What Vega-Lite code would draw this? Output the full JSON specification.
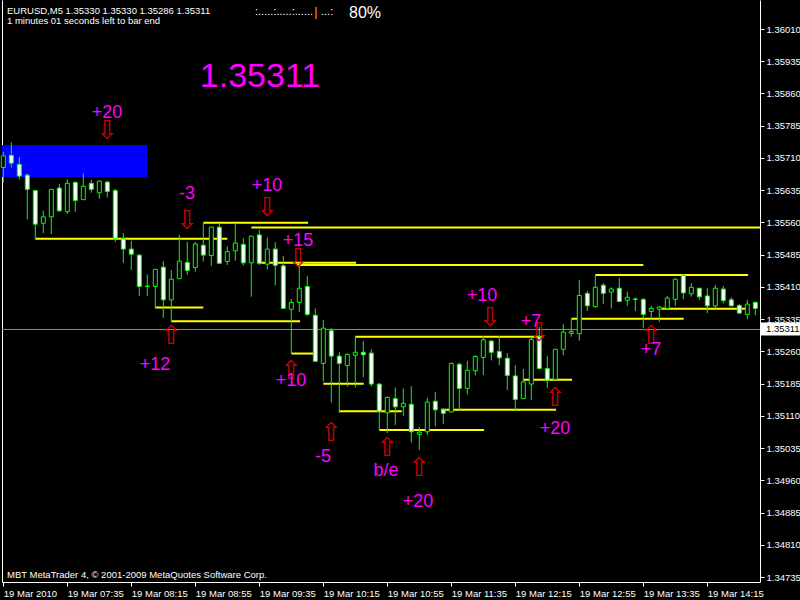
{
  "$schema": "https://vega.github.io/schema/vega-lite/v6.json",
  "width": 758,
  "height": 582,
  "autosize": {"type": "none"},
  "padding": {"left": 2, "top": 0, "right": 40, "bottom": 18},
  "background": "#000000",
  "config": {
    "view": {"stroke": null},
    "scale": {"continuousPadding": 0},
    "axis": {"grid": false, "labelColor": "#FFFFFF", "tickColor": "#FFFFFF", "domainColor": "#FFFFFF", "labelFont": "Liberation Sans", "labelFontSize": 9.5}
  },
  "resolve": {"axis": {"x": "independent", "y": "independent"}},
  "layer": [
    {
      "data": {"values": [{"t1": "2010-03-19T06:40", "t2": "2010-03-19T08:25", "p1": 1.35740, "p2": 1.35666}]},
      "mark": {"type": "rect", "fill": "#0000FF", "clip": true},
      "encoding": {
        "x": {"field": "t1", "type": "temporal",
          "scale": {"padding": 0, "domain": [{"year": 2010, "month": 3, "date": 19, "hours": 6, "minutes": 54, "seconds": 11}, {"year": 2010, "month": 3, "date": 19, "hours": 14, "minutes": 47, "seconds": 56}]},
          "axis": {"orient": "bottom", "title": null,
            "values": [
              {"year": 2010, "month": 3, "date": 19, "hours": 6, "minutes": 55},
              {"year": 2010, "month": 3, "date": 19, "hours": 7, "minutes": 35},
              {"year": 2010, "month": 3, "date": 19, "hours": 8, "minutes": 15},
              {"year": 2010, "month": 3, "date": 19, "hours": 8, "minutes": 55},
              {"year": 2010, "month": 3, "date": 19, "hours": 9, "minutes": 35},
              {"year": 2010, "month": 3, "date": 19, "hours": 10, "minutes": 15},
              {"year": 2010, "month": 3, "date": 19, "hours": 10, "minutes": 55},
              {"year": 2010, "month": 3, "date": 19, "hours": 11, "minutes": 35},
              {"year": 2010, "month": 3, "date": 19, "hours": 12, "minutes": 15},
              {"year": 2010, "month": 3, "date": 19, "hours": 12, "minutes": 55},
              {"year": 2010, "month": 3, "date": 19, "hours": 13, "minutes": 35},
              {"year": 2010, "month": 3, "date": 19, "hours": 14, "minutes": 15}
            ],
            "labelExpr": "hours(datum.value) == 6 ? '19 Mar 2010' : timeFormat(datum.value, '%d %b %H:%M')",
            "labelAlign": "left", "labelDx": 1, "labelBaseline": "top", "labelPadding": 2, "tickSize": 4, "labelOverlap": false, "labelFlush": false}},
        "x2": {"field": "t2"},
        "y": {"field": "p1", "type": "quantitative", "scale": {"domain": [1.347235, 1.360775], "zero": false, "nice": false},
          "axis": {"orient": "left", "labels": false, "ticks": false, "domain": true, "title": null}},
        "y2": {"field": "p2"}
      }
    },
    {
      "data": {"values": [
        {"t1": "2010-03-19T07:15", "t2": "2010-03-19T09:15", "p": 1.35522},
        {"t1": "2010-03-19T09:00", "t2": "2010-03-19T10:05:30", "p": 1.35559},
        {"t1": "2010-03-19T09:30", "t2": "2010-03-19T14:55", "p": 1.35548},
        {"t1": "2010-03-19T09:35", "t2": "2010-03-19T10:35:30", "p": 1.35466},
        {"t1": "2010-03-19T09:58:30", "t2": "2010-03-19T13:35", "p": 1.35461},
        {"t1": "2010-03-19T08:30", "t2": "2010-03-19T09:00", "p": 1.35362},
        {"t1": "2010-03-19T08:40", "t2": "2010-03-19T10:00:30", "p": 1.35330},
        {"t1": "2010-03-19T09:55", "t2": "2010-03-19T10:08:45", "p": 1.35255},
        {"t1": "2010-03-19T10:35", "t2": "2010-03-19T12:32:30", "p": 1.35294},
        {"t1": "2010-03-19T10:15", "t2": "2010-03-19T10:40:15", "p": 1.35185},
        {"t1": "2010-03-19T10:25", "t2": "2010-03-19T11:04", "p": 1.35121},
        {"t1": "2010-03-19T11:28:30", "t2": "2010-03-19T12:40:30", "p": 1.35124},
        {"t1": "2010-03-19T10:50", "t2": "2010-03-19T11:55:30", "p": 1.35077},
        {"t1": "2010-03-19T12:20", "t2": "2010-03-19T12:50:30", "p": 1.35194},
        {"t1": "2010-03-19T13:05", "t2": "2010-03-19T14:40:30", "p": 1.35438},
        {"t1": "2010-03-19T12:50", "t2": "2010-03-19T14:00:15", "p": 1.35336},
        {"t1": "2010-03-19T13:46:30", "t2": "2010-03-19T14:40", "p": 1.35359}
      ]},
      "mark": {"type": "rule", "color": "#FFFF00", "strokeWidth": 2, "clip": true},
      "encoding": {
        "x": {"field": "t1", "type": "temporal", "axis": null},
        "x2": {"field": "t2"},
        "y": {"field": "p", "type": "quantitative", "axis": null}
      }
    },
    {
      "data": {"values": [{"p": 1.35311}]},
      "mark": {"type": "rule", "color": "#8C8C8C", "strokeWidth": 1},
      "encoding": {
        "y": {"field": "p", "type": "quantitative", "axis": null}
      }
    },
    {
      "data": {"name": "candles", "values": [
        {"t": "2010-03-19T06:55", "o": 1.35688, "h": 1.35724, "l": 1.35653, "c": 1.35715},
        {"t": "2010-03-19T07:00", "o": 1.35716, "h": 1.35746, "l": 1.35688, "c": 1.35698},
        {"t": "2010-03-19T07:05", "o": 1.35695, "h": 1.35712, "l": 1.35660, "c": 1.35668},
        {"t": "2010-03-19T07:10", "o": 1.35670, "h": 1.35674, "l": 1.35567, "c": 1.35637},
        {"t": "2010-03-19T07:15", "o": 1.35634, "h": 1.35636, "l": 1.35521, "c": 1.35556},
        {"t": "2010-03-19T07:20", "o": 1.35558, "h": 1.35587, "l": 1.35535, "c": 1.35573},
        {"t": "2010-03-19T07:25", "o": 1.35573, "h": 1.35638, "l": 1.35533, "c": 1.35637},
        {"t": "2010-03-19T07:30", "o": 1.35640, "h": 1.35650, "l": 1.35584, "c": 1.35587},
        {"t": "2010-03-19T07:35", "o": 1.35585, "h": 1.35660, "l": 1.35580, "c": 1.35651},
        {"t": "2010-03-19T07:40", "o": 1.35653, "h": 1.35656, "l": 1.35585, "c": 1.35611},
        {"t": "2010-03-19T07:45", "o": 1.35613, "h": 1.35674, "l": 1.35612, "c": 1.35644},
        {"t": "2010-03-19T07:50", "o": 1.35651, "h": 1.35659, "l": 1.35629, "c": 1.35637},
        {"t": "2010-03-19T07:55", "o": 1.35629, "h": 1.35657, "l": 1.35615, "c": 1.35656},
        {"t": "2010-03-19T08:00", "o": 1.35654, "h": 1.35657, "l": 1.35618, "c": 1.35632},
        {"t": "2010-03-19T08:05", "o": 1.35634, "h": 1.35638, "l": 1.35515, "c": 1.35522},
        {"t": "2010-03-19T08:10", "o": 1.35522, "h": 1.35535, "l": 1.35466, "c": 1.35498},
        {"t": "2010-03-19T08:15", "o": 1.35498, "h": 1.35517, "l": 1.35449, "c": 1.35486},
        {"t": "2010-03-19T08:20", "o": 1.35484, "h": 1.35486, "l": 1.35389, "c": 1.35411},
        {"t": "2010-03-19T08:25", "o": 1.35412, "h": 1.35439, "l": 1.35389, "c": 1.35411},
        {"t": "2010-03-19T08:30", "o": 1.35411, "h": 1.35452, "l": 1.35360, "c": 1.35451},
        {"t": "2010-03-19T08:35", "o": 1.35456, "h": 1.35470, "l": 1.35338, "c": 1.35380},
        {"t": "2010-03-19T08:40", "o": 1.35380, "h": 1.35449, "l": 1.35329, "c": 1.35428},
        {"t": "2010-03-19T08:45", "o": 1.35429, "h": 1.35531, "l": 1.35428, "c": 1.35470},
        {"t": "2010-03-19T08:50", "o": 1.35467, "h": 1.35515, "l": 1.35438, "c": 1.35448},
        {"t": "2010-03-19T08:55", "o": 1.35455, "h": 1.35514, "l": 1.35445, "c": 1.35510},
        {"t": "2010-03-19T09:00", "o": 1.35507, "h": 1.35559, "l": 1.35469, "c": 1.35484},
        {"t": "2010-03-19T09:05", "o": 1.35483, "h": 1.35550, "l": 1.35459, "c": 1.35549},
        {"t": "2010-03-19T09:10", "o": 1.35549, "h": 1.35558, "l": 1.35464, "c": 1.35465},
        {"t": "2010-03-19T09:15", "o": 1.35469, "h": 1.35504, "l": 1.35461, "c": 1.35492},
        {"t": "2010-03-19T09:20", "o": 1.35494, "h": 1.35558, "l": 1.35471, "c": 1.35512},
        {"t": "2010-03-19T09:25", "o": 1.35509, "h": 1.35523, "l": 1.35460, "c": 1.35466},
        {"t": "2010-03-19T09:30", "o": 1.35466, "h": 1.35529, "l": 1.35387, "c": 1.35528},
        {"t": "2010-03-19T09:35", "o": 1.35531, "h": 1.35542, "l": 1.35461, "c": 1.35465},
        {"t": "2010-03-19T09:40", "o": 1.35463, "h": 1.35525, "l": 1.35451, "c": 1.35498},
        {"t": "2010-03-19T09:45", "o": 1.35498, "h": 1.35514, "l": 1.35414, "c": 1.35460},
        {"t": "2010-03-19T09:50", "o": 1.35459, "h": 1.35482, "l": 1.35359, "c": 1.35360},
        {"t": "2010-03-19T09:55", "o": 1.35358, "h": 1.35382, "l": 1.35256, "c": 1.35374},
        {"t": "2010-03-19T10:00", "o": 1.35374, "h": 1.35461, "l": 1.35352, "c": 1.35407},
        {"t": "2010-03-19T10:05", "o": 1.35411, "h": 1.35435, "l": 1.35342, "c": 1.35346},
        {"t": "2010-03-19T10:10", "o": 1.35344, "h": 1.35360, "l": 1.35236, "c": 1.35237},
        {"t": "2010-03-19T10:15", "o": 1.35232, "h": 1.35333, "l": 1.35190, "c": 1.35314},
        {"t": "2010-03-19T10:20", "o": 1.35308, "h": 1.35314, "l": 1.35141, "c": 1.35249},
        {"t": "2010-03-19T10:25", "o": 1.35249, "h": 1.35258, "l": 1.35117, "c": 1.35232},
        {"t": "2010-03-19T10:30", "o": 1.35227, "h": 1.35255, "l": 1.35178, "c": 1.35253},
        {"t": "2010-03-19T10:35", "o": 1.35251, "h": 1.35294, "l": 1.35176, "c": 1.35258},
        {"t": "2010-03-19T10:40", "o": 1.35258, "h": 1.35284, "l": 1.35200, "c": 1.35252},
        {"t": "2010-03-19T10:45", "o": 1.35256, "h": 1.35265, "l": 1.35178, "c": 1.35184},
        {"t": "2010-03-19T10:50", "o": 1.35184, "h": 1.35186, "l": 1.35077, "c": 1.35120},
        {"t": "2010-03-19T10:55", "o": 1.35117, "h": 1.35155, "l": 1.35070, "c": 1.35153},
        {"t": "2010-03-19T11:00", "o": 1.35150, "h": 1.35176, "l": 1.35089, "c": 1.35131},
        {"t": "2010-03-19T11:05", "o": 1.35131, "h": 1.35174, "l": 1.35110, "c": 1.35139},
        {"t": "2010-03-19T11:10", "o": 1.35137, "h": 1.35179, "l": 1.35048, "c": 1.35073},
        {"t": "2010-03-19T11:15", "o": 1.35067, "h": 1.35084, "l": 1.35031, "c": 1.35072},
        {"t": "2010-03-19T11:20", "o": 1.35073, "h": 1.35152, "l": 1.35066, "c": 1.35142},
        {"t": "2010-03-19T11:25", "o": 1.35144, "h": 1.35165, "l": 1.35086, "c": 1.35124},
        {"t": "2010-03-19T11:30", "o": 1.35124, "h": 1.35128, "l": 1.35091, "c": 1.35116},
        {"t": "2010-03-19T11:35", "o": 1.35119, "h": 1.35234, "l": 1.35118, "c": 1.35232},
        {"t": "2010-03-19T11:40", "o": 1.35230, "h": 1.35234, "l": 1.35124, "c": 1.35174},
        {"t": "2010-03-19T11:45", "o": 1.35174, "h": 1.35238, "l": 1.35160, "c": 1.35216},
        {"t": "2010-03-19T11:50", "o": 1.35215, "h": 1.35251, "l": 1.35204, "c": 1.35248},
        {"t": "2010-03-19T11:55", "o": 1.35246, "h": 1.35296, "l": 1.35205, "c": 1.35287},
        {"t": "2010-03-19T12:00", "o": 1.35284, "h": 1.35287, "l": 1.35239, "c": 1.35258},
        {"t": "2010-03-19T12:05", "o": 1.35260, "h": 1.35296, "l": 1.35228, "c": 1.35245},
        {"t": "2010-03-19T12:10", "o": 1.35244, "h": 1.35256, "l": 1.35170, "c": 1.35204},
        {"t": "2010-03-19T12:15", "o": 1.35203, "h": 1.35228, "l": 1.35124, "c": 1.35148},
        {"t": "2010-03-19T12:20", "o": 1.35150, "h": 1.35219, "l": 1.35149, "c": 1.35189},
        {"t": "2010-03-19T12:25", "o": 1.35184, "h": 1.35294, "l": 1.35147, "c": 1.35288},
        {"t": "2010-03-19T12:30", "o": 1.35294, "h": 1.35317, "l": 1.35219, "c": 1.35220},
        {"t": "2010-03-19T12:35", "o": 1.35220, "h": 1.35249, "l": 1.35175, "c": 1.35193},
        {"t": "2010-03-19T12:40", "o": 1.35195, "h": 1.35265, "l": 1.35194, "c": 1.35265},
        {"t": "2010-03-19T12:45", "o": 1.35265, "h": 1.35323, "l": 1.35251, "c": 1.35305},
        {"t": "2010-03-19T12:50", "o": 1.35302, "h": 1.35337, "l": 1.35294, "c": 1.35306},
        {"t": "2010-03-19T12:55", "o": 1.35301, "h": 1.35426, "l": 1.35285, "c": 1.35390},
        {"t": "2010-03-19T13:00", "o": 1.35395, "h": 1.35401, "l": 1.35354, "c": 1.35366},
        {"t": "2010-03-19T13:05", "o": 1.35364, "h": 1.35435, "l": 1.35362, "c": 1.35409},
        {"t": "2010-03-19T13:10", "o": 1.35414, "h": 1.35419, "l": 1.35370, "c": 1.35395},
        {"t": "2010-03-19T13:15", "o": 1.35398, "h": 1.35409, "l": 1.35360, "c": 1.35405},
        {"t": "2010-03-19T13:20", "o": 1.35407, "h": 1.35430, "l": 1.35375, "c": 1.35376},
        {"t": "2010-03-19T13:25", "o": 1.35379, "h": 1.35399, "l": 1.35366, "c": 1.35386},
        {"t": "2010-03-19T13:30", "o": 1.35382, "h": 1.35385, "l": 1.35354, "c": 1.35381},
        {"t": "2010-03-19T13:35", "o": 1.35381, "h": 1.35384, "l": 1.35315, "c": 1.35346},
        {"t": "2010-03-19T13:40", "o": 1.35353, "h": 1.35366, "l": 1.35335, "c": 1.35360},
        {"t": "2010-03-19T13:45", "o": 1.35358, "h": 1.35366, "l": 1.35329, "c": 1.35363},
        {"t": "2010-03-19T13:50", "o": 1.35360, "h": 1.35389, "l": 1.35360, "c": 1.35384},
        {"t": "2010-03-19T13:55", "o": 1.35381, "h": 1.35430, "l": 1.35366, "c": 1.35428},
        {"t": "2010-03-19T14:00", "o": 1.35437, "h": 1.35440, "l": 1.35381, "c": 1.35396},
        {"t": "2010-03-19T14:05", "o": 1.35394, "h": 1.35419, "l": 1.35387, "c": 1.35409},
        {"t": "2010-03-19T14:10", "o": 1.35407, "h": 1.35407, "l": 1.35380, "c": 1.35387},
        {"t": "2010-03-19T14:15", "o": 1.35389, "h": 1.35407, "l": 1.35349, "c": 1.35366},
        {"t": "2010-03-19T14:20", "o": 1.35366, "h": 1.35414, "l": 1.35360, "c": 1.35407},
        {"t": "2010-03-19T14:25", "o": 1.35405, "h": 1.35412, "l": 1.35372, "c": 1.35378},
        {"t": "2010-03-19T14:30", "o": 1.35380, "h": 1.35386, "l": 1.35365, "c": 1.35366},
        {"t": "2010-03-19T14:35", "o": 1.35367, "h": 1.35370, "l": 1.35348, "c": 1.35349},
        {"t": "2010-03-19T14:40", "o": 1.35346, "h": 1.35380, "l": 1.35335, "c": 1.35370},
        {"t": "2010-03-19T14:45", "o": 1.35374, "h": 1.35376, "l": 1.35344, "c": 1.35360}
      ]},
      "mark": {"type": "rule", "color": "#00FF00", "strokeWidth": 1},
      "encoding": {
        "x": {"field": "t", "type": "temporal", "axis": null},
        "y": {"field": "l", "type": "quantitative",
          "axis": {"orient": "right", "title": null, "format": ".5f", "tickSize": 4, "labelPadding": 2, "labelOverlap": false, "labelFlush": false,
            "values": [1.34735, 1.34810, 1.34885, 1.34960, 1.35035, 1.35110, 1.35185, 1.35260, 1.35335, 1.35410, 1.35485, 1.35560, 1.35635, 1.35710, 1.35785, 1.35860, 1.35935, 1.36010]}},
        "y2": {"field": "h"}
      }
    },
    {
      "data": {"name": "candles"},
      "mark": {"type": "bar", "size": 4, "stroke": "#00FF00", "strokeWidth": 1},
      "encoding": {
        "x": {"field": "t", "type": "temporal", "axis": null},
        "y": {"field": "o", "type": "quantitative", "axis": null},
        "y2": {"field": "c"},
        "fill": {"condition": {"test": "datum.c < datum.o", "value": "#FFFFFF"}, "value": "#000000"}
      }
    },
    {
      "data": {"values": [
        {"t": "2010-03-19T07:59:49", "p": 1.35773, "s": "⇩"},
        {"t": "2010-03-19T08:49:49", "p": 1.35563, "s": "⇩"},
        {"t": "2010-03-19T09:39:49", "p": 1.35594, "s": "⇩"},
        {"t": "2010-03-19T09:59:11", "p": 1.35475, "s": "⇩"},
        {"t": "2010-03-19T11:59:11", "p": 1.35338, "s": "⇩"},
        {"t": "2010-03-19T12:29:49", "p": 1.35303, "s": "⇩"},
        {"t": "2010-03-19T08:39:49", "p": 1.35296, "s": "⇧"},
        {"t": "2010-03-19T09:54:49", "p": 1.35214, "s": "⇧"},
        {"t": "2010-03-19T10:19:49", "p": 1.35070, "s": "⇧"},
        {"t": "2010-03-19T10:54:49", "p": 1.35035, "s": "⇧"},
        {"t": "2010-03-19T11:14:49", "p": 1.34989, "s": "⇧"},
        {"t": "2010-03-19T12:39:49", "p": 1.35152, "s": "⇧"},
        {"t": "2010-03-19T13:39:49", "p": 1.35296, "s": "⇧"}
      ]},
      "mark": {"type": "text", "font": "DejaVu Sans", "fontSize": 26, "color": "#D00000", "align": "center", "baseline": "middle"},
      "encoding": {
        "x": {"field": "t", "type": "temporal", "axis": null},
        "y": {"field": "p", "type": "quantitative", "axis": null},
        "text": {"field": "s"}
      }
    },
    {
      "data": {"values": [
        {"t": "2010-03-19T07:59:49", "p": 1.35815, "s": "+20"},
        {"t": "2010-03-19T08:49:49", "p": 1.35626, "s": "-3"},
        {"t": "2010-03-19T09:39:49", "p": 1.35645, "s": "+10"},
        {"t": "2010-03-19T09:59:11", "p": 1.35517, "s": "+15"},
        {"t": "2010-03-19T08:29:49", "p": 1.35228, "s": "+12"},
        {"t": "2010-03-19T09:54:49", "p": 1.35191, "s": "+10"},
        {"t": "2010-03-19T10:14:49", "p": 1.35014, "s": "-5"},
        {"t": "2010-03-19T10:54:11", "p": 1.34982, "s": "b/e"},
        {"t": "2010-03-19T11:14:11", "p": 1.34910, "s": "+20"},
        {"t": "2010-03-19T11:54:11", "p": 1.35389, "s": "+10"},
        {"t": "2010-03-19T12:24:49", "p": 1.35328, "s": "+7"},
        {"t": "2010-03-19T12:39:49", "p": 1.35079, "s": "+20"},
        {"t": "2010-03-19T13:39:49", "p": 1.35263, "s": "+7"}
      ]},
      "mark": {"type": "text", "font": "Liberation Sans", "fontSize": 18, "color": "#FF00FF", "align": "center", "baseline": "middle"},
      "encoding": {
        "x": {"field": "t", "type": "temporal", "axis": null},
        "y": {"field": "p", "type": "quantitative", "axis": null},
        "text": {"field": "s"}
      }
    },
    {
      "data": {"values": [{"t": "2010-03-19T09:35:26", "p": 1.35898, "s": "1.35311"}]},
      "mark": {"type": "text", "font": "Liberation Sans", "fontSize": 34, "color": "#FF00FF", "align": "center", "baseline": "middle"},
      "encoding": {
        "x": {"field": "t", "type": "temporal", "axis": null},
        "y": {"field": "p", "type": "quantitative", "axis": null},
        "text": {"field": "s"}
      }
    },
    {
      "data": {"values": [{"s": "EURUSD,M5  1.35330 1.35330 1.35286 1.35311"}]},
      "mark": {"type": "text", "font": "Liberation Sans", "fontSize": 9.5, "color": "#FFFFFF", "align": "left", "baseline": "middle", "dx": 5, "dy": 11},
      "encoding": {
        "x": {"datum": {"year": 2010, "month": 3, "date": 19, "hours": 6, "minutes": 54, "seconds": 11}, "type": "temporal", "axis": null},
        "y": {"datum": 1.360775, "type": "quantitative", "axis": null},
        "text": {"field": "s"}
      }
    },
    {
      "data": {"values": [{"s": "1 minutes 01 seconds left to bar end"}]},
      "mark": {"type": "text", "font": "Liberation Sans", "fontSize": 9.5, "color": "#FFFFFF", "align": "left", "baseline": "middle", "dx": 5, "dy": 20.5},
      "encoding": {
        "x": {"datum": {"year": 2010, "month": 3, "date": 19, "hours": 6, "minutes": 54, "seconds": 11}, "type": "temporal", "axis": null},
        "y": {"datum": 1.360775, "type": "quantitative", "axis": null},
        "text": {"field": "s"}
      }
    },
    {
      "data": {"values": [{"s": ":.....:.....:......"}]},
      "mark": {"type": "text", "font": "Liberation Sans", "fontSize": 11, "color": "#FFFFFF", "align": "left", "baseline": "middle", "dx": 253, "dy": 12},
      "encoding": {
        "x": {"datum": {"year": 2010, "month": 3, "date": 19, "hours": 6, "minutes": 54, "seconds": 11}, "type": "temporal", "axis": null},
        "y": {"datum": 1.360775, "type": "quantitative", "axis": null},
        "text": {"field": "s"}
      }
    },
    {
      "data": {"values": [{"s": "|"}]},
      "mark": {"type": "text", "font": "Liberation Sans", "fontSize": 13, "color": "#FFA500", "align": "center", "baseline": "middle", "dx": 314, "dy": 12},
      "encoding": {
        "x": {"datum": {"year": 2010, "month": 3, "date": 19, "hours": 6, "minutes": 54, "seconds": 11}, "type": "temporal", "axis": null},
        "y": {"datum": 1.360775, "type": "quantitative", "axis": null},
        "text": {"field": "s"}
      }
    },
    {
      "data": {"values": [{"s": "...:"}]},
      "mark": {"type": "text", "font": "Liberation Sans", "fontSize": 11, "color": "#FFFFFF", "align": "left", "baseline": "middle", "dx": 319, "dy": 12},
      "encoding": {
        "x": {"datum": {"year": 2010, "month": 3, "date": 19, "hours": 6, "minutes": 54, "seconds": 11}, "type": "temporal", "axis": null},
        "y": {"datum": 1.360775, "type": "quantitative", "axis": null},
        "text": {"field": "s"}
      }
    },
    {
      "data": {"values": [{"s": "80%"}]},
      "mark": {"type": "text", "font": "Liberation Sans", "fontSize": 16, "color": "#FFFFFF", "align": "left", "baseline": "middle", "dx": 347, "dy": 13},
      "encoding": {
        "x": {"datum": {"year": 2010, "month": 3, "date": 19, "hours": 6, "minutes": 54, "seconds": 11}, "type": "temporal", "axis": null},
        "y": {"datum": 1.360775, "type": "quantitative", "axis": null},
        "text": {"field": "s"}
      }
    },
    {
      "data": {"values": [{"s": "MBT MetaTrader 4, © 2001-2009 MetaQuotes Software Corp."}]},
      "mark": {"type": "text", "font": "Liberation Sans", "fontSize": 9.5, "color": "#FFFFFF", "align": "left", "baseline": "middle", "dx": 5, "dy": -7},
      "encoding": {
        "x": {"datum": {"year": 2010, "month": 3, "date": 19, "hours": 6, "minutes": 54, "seconds": 11}, "type": "temporal", "axis": null},
        "y": {"datum": 1.347235, "type": "quantitative", "axis": null},
        "text": {"field": "s"}
      }
    },
    {
      "data": {"values": [{"p": 1.35311}]},
      "mark": {"type": "rect", "fill": "#FFFFFF", "xOffset": 1, "x2Offset": 40, "yOffset": -7, "y2Offset": 6, "clip": false},
      "encoding": {
        "x": {"datum": {"year": 2010, "month": 3, "date": 19, "hours": 14, "minutes": 47, "seconds": 56}, "type": "temporal", "axis": null},
        "x2": {"datum": {"year": 2010, "month": 3, "date": 19, "hours": 14, "minutes": 47, "seconds": 56}},
        "y": {"field": "p", "type": "quantitative", "axis": null},
        "y2": {"field": "p"}
      }
    },
    {
      "data": {"values": [{"p": 1.35311, "s": "1.35311"}]},
      "mark": {"type": "text", "font": "Liberation Sans", "fontSize": 9.5, "color": "#000000", "align": "left", "baseline": "middle", "dx": 6, "clip": false},
      "encoding": {
        "x": {"datum": {"year": 2010, "month": 3, "date": 19, "hours": 14, "minutes": 47, "seconds": 56}, "type": "temporal", "axis": null},
        "y": {"field": "p", "type": "quantitative", "axis": null},
        "text": {"field": "s"}
      }
    }
  ]
}
